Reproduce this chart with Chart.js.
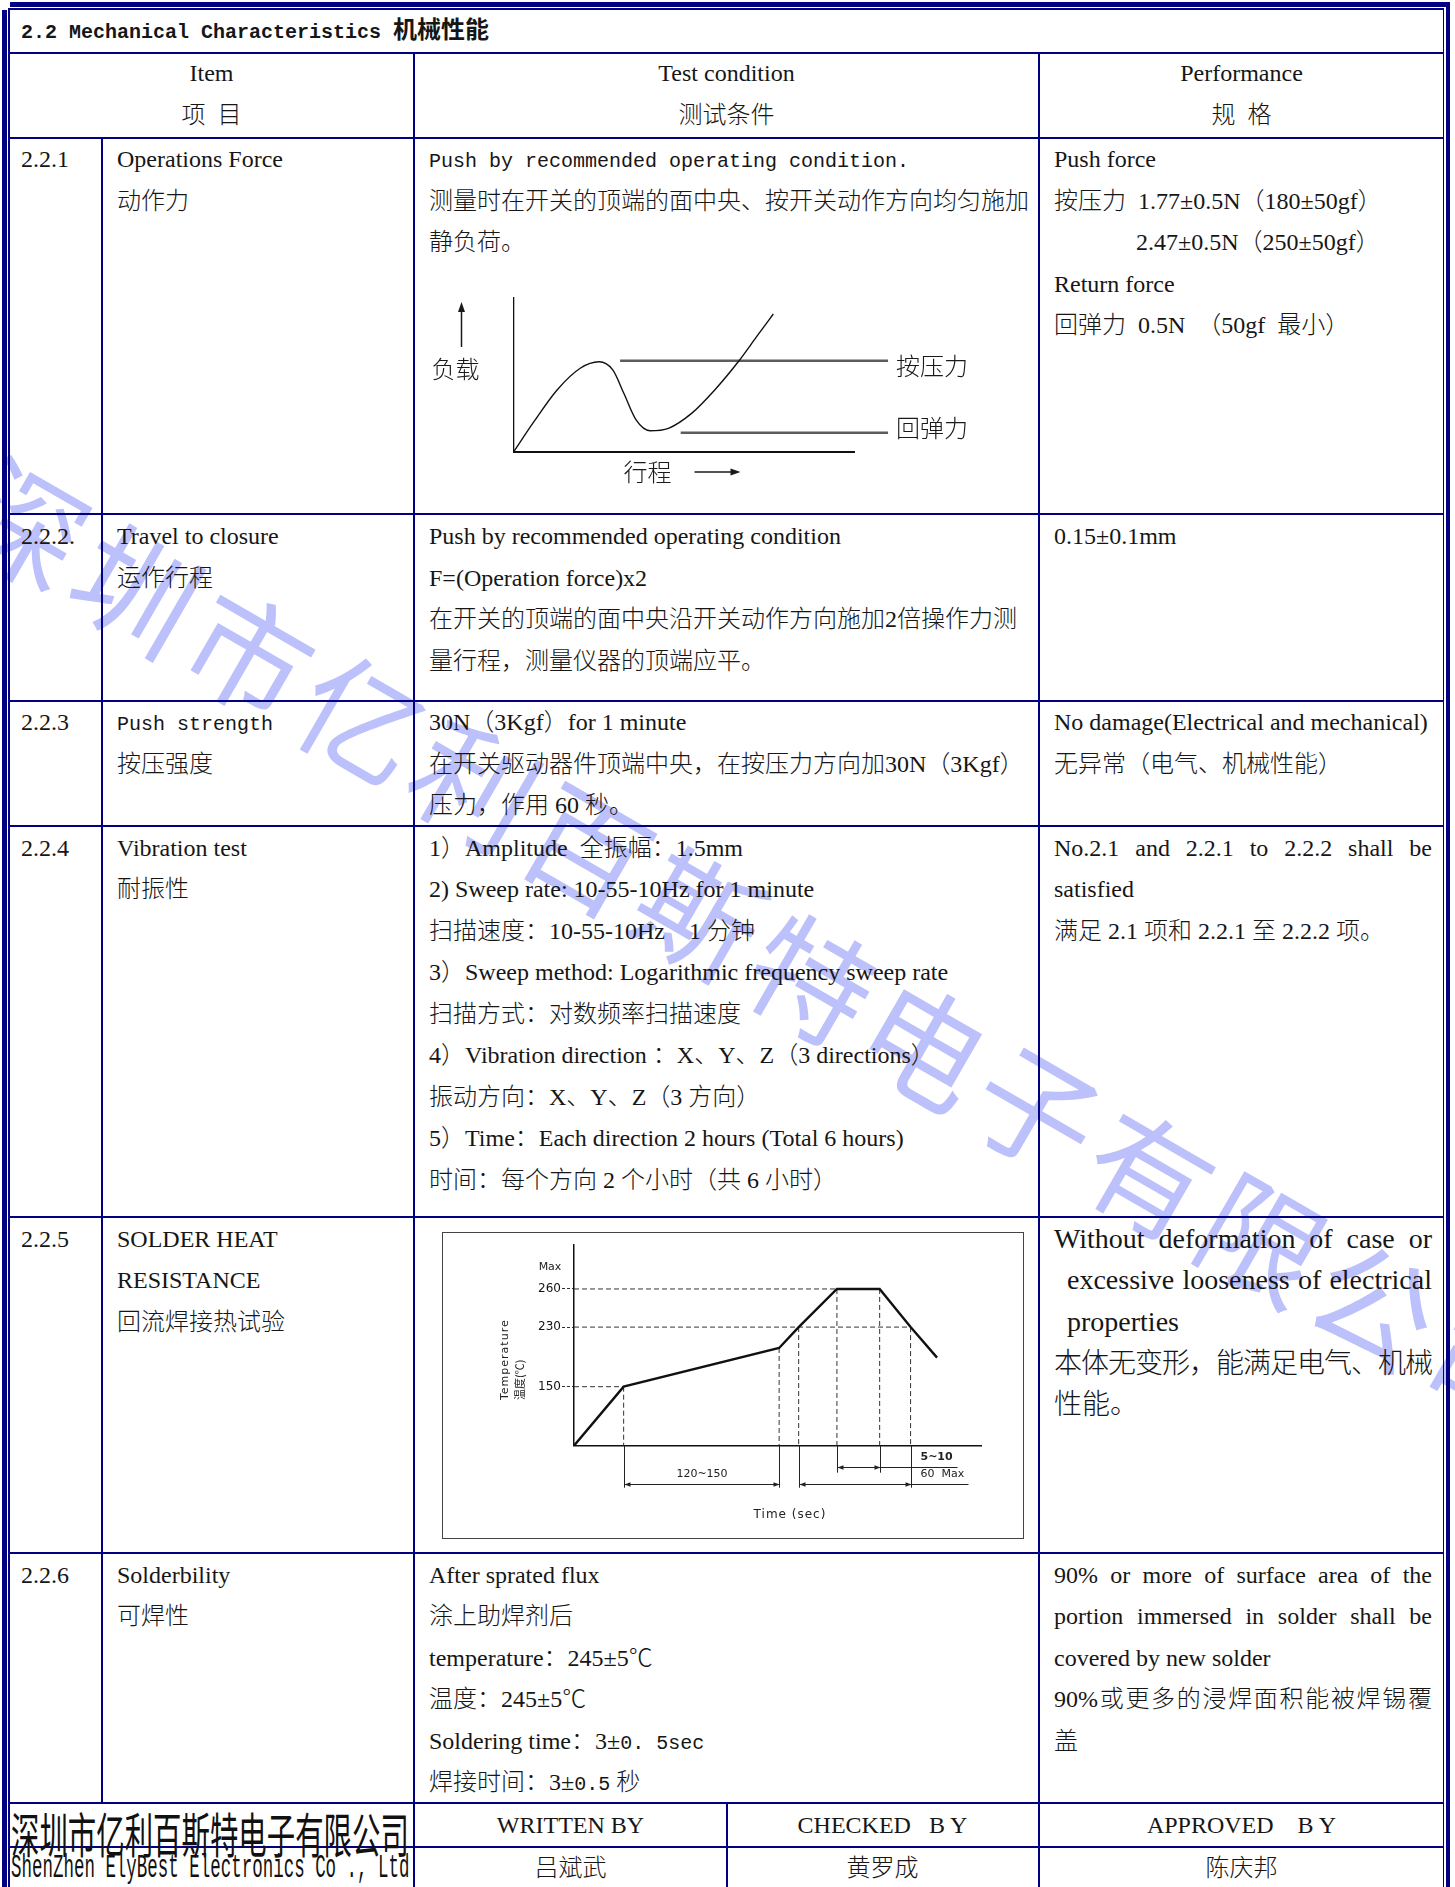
<!DOCTYPE html>
<html>
<head>
<meta charset="utf-8">
<title>2.2 Mechanical Characteristics 机械性能</title>
<script src="https://cdn.jsdelivr.net/npm/chart.js@4.4.1/dist/chart.umd.min.js"></script>
<style>
  html, body { margin: 0; padding: 0; background: #fff; }
  #page { position: relative; width: 1455px; height: 1887px; overflow: hidden; background: #fff; }
  .ln { position: absolute; background: #000080; z-index: 2; }
  .t { position: absolute; z-index: 3; white-space: nowrap; color: #161616; font-weight: 300;
       font-family: "Liberation Serif", "Noto Sans CJK SC", serif; font-size: 24px; line-height: 41.5px; }
  .t > div { height: 41.5px; }
  .m { font-family: "Liberation Mono", "Noto Sans CJK SC", monospace; font-size: 20px; font-weight: 400; }
  .title, .title .m { font-weight: 700; }
  .j { white-space: normal; text-align: justify; text-align-last: justify; }
  .c { text-align: center; }
  .big { font-size: 28px; line-height: 41.7px; }
  .big > div { height: 41.7px; }
  #wm { position: absolute; left: -26px; top: 424px; height: 130px; line-height: 130px; z-index: 1;
        font-family: "Noto Sans CJK SC", sans-serif; font-weight: 400; font-size: 122px; letter-spacing: 8px;
        color: #bcc0fb; white-space: nowrap; transform-origin: 0 50%; transform: rotate(30deg); }
  canvas { position: absolute; z-index: 3; }
  .box { position: absolute; z-index: 3; border: 1.5px solid #444; box-sizing: border-box; }
  .logo { position: absolute; z-index: 3; left: 11px; white-space: nowrap; color: #111; transform-origin: 0 50%; }
  .logo.cn { top: 1808px; height: 48px; font-family: "Noto Sans CJK SC", sans-serif; font-size: 48px; line-height: 48px; transform: scaleX(0.592); }
  .logo.en { top: 1853px; height: 30px; font-family: "Liberation Mono", monospace; font-size: 34px; line-height: 30px; transform: scaleX(0.514); }
</style>
</head>
<body>
<div id="page">
  <div id="wm">深圳市亿利百斯特电子有限公司</div>

  <div class="t title" style="left:21px;top:10px"><div><span class="m">2.2 Mechanical Characteristics </span>机械性能</div></div>

  <div class="t c" style="left:9px;top:53px;width:405px"><div>Item</div><div>项&ensp;目</div></div>
  <div class="t c" style="left:415px;top:53px;width:623px"><div>Test condition</div><div>测试条件</div></div>
  <div class="t c" style="left:1040px;top:53px;width:403px"><div>Performance</div><div>规&ensp;格</div></div>

  <!-- 2.2.1 -->
  <div class="t" style="left:21px;top:139px"><div>2.2.1</div></div>
  <div class="t" style="left:117px;top:139px"><div>Operations Force</div><div>动作力</div></div>
  <div class="t" style="left:429px;top:139px">
    <div><span class="m">Push by recommended operating condition.</span></div>
    <div>测量时在开关的顶端的面中央、按开关动作方向均匀施加</div>
    <div>静负荷。</div>
  </div>
  <div class="t" style="left:1054px;top:139px">
    <div>Push force</div>
    <div>按压力&ensp;1.77±0.5N（180±50gf）</div>
    <div style="padding-left:82px">2.47±0.5N（250±50gf）</div>
    <div>Return force</div>
    <div>回弹力&ensp;0.5N&ensp;（50gf&ensp;最小）</div>
  </div>
  <canvas id="forceChart" width="610" height="215" style="left:420px;top:280px"></canvas>

  <!-- 2.2.2 -->
  <div class="t" style="left:21px;top:516px"><div>2.2.2.</div></div>
  <div class="t" style="left:117px;top:516px"><div>Travel to closure</div><div>运作行程</div></div>
  <div class="t" style="left:429px;top:516px">
    <div>Push by recommended operating condition</div>
    <div>F=(Operation force)x2</div>
    <div>在开关的顶端的面中央沿开关动作方向施加2倍操作力测</div>
    <div>量行程，测量仪器的顶端应平。</div>
  </div>
  <div class="t" style="left:1054px;top:516px"><div>0.15±0.1mm</div></div>

  <!-- 2.2.3 -->
  <div class="t" style="left:21px;top:702px"><div>2.2.3</div></div>
  <div class="t" style="left:117px;top:702px"><div><span class="m">Push strength</span></div><div>按压强度</div></div>
  <div class="t" style="left:429px;top:702px">
    <div>30N（3Kgf）for 1 minute</div>
    <div>在开关驱动器件顶端中央，在按压力方向加30N（3Kgf）</div>
    <div>压力，作用 60 秒。</div>
  </div>
  <div class="t" style="left:1054px;top:702px">
    <div>No damage(Electrical and mechanical)</div>
    <div>无异常（电气、机械性能）</div>
  </div>

  <!-- 2.2.4 -->
  <div class="t" style="left:21px;top:827.5px"><div>2.2.4</div></div>
  <div class="t" style="left:117px;top:827.5px"><div>Vibration test</div><div>耐振性</div></div>
  <div class="t" style="left:429px;top:827.5px">
    <div>1）Amplitude&ensp;全振幅：1.5mm</div>
    <div>2) Sweep rate: 10-55-10Hz for 1 minute</div>
    <div>扫描速度：10-55-10Hz&ensp;&ensp;1 分钟</div>
    <div>3）Sweep method: Logarithmic frequency sweep rate</div>
    <div>扫描方式：对数频率扫描速度</div>
    <div>4）Vibration direction&nbsp;：X、Y、Z（3 directions）</div>
    <div>振动方向：X、Y、Z（3 方向）</div>
    <div>5）Time：Each direction 2 hours (Total 6 hours)</div>
    <div>时间：每个方向 2 个小时（共 6 小时）</div>
  </div>
  <div class="t" style="left:1054px;top:827.5px;width:378px">
    <div class="j">No.2.1 and 2.2.1 to 2.2.2 shall be</div>
    <div>satisfied</div>
    <div>满足 2.1 项和 2.2.1 至 2.2.2 项。</div>
  </div>

  <!-- 2.2.5 -->
  <div class="t" style="left:21px;top:1218.5px"><div>2.2.5</div></div>
  <div class="t" style="left:117px;top:1218.5px"><div>SOLDER HEAT</div><div>RESISTANCE</div><div>回流焊接热试验</div></div>
  <div class="box" style="left:442px;top:1232px;width:582px;height:307px"></div>
  <canvas id="reflowChart" width="582" height="307" style="left:442px;top:1232px"></canvas>
  <div class="t big" style="left:1054px;top:1217.7px;width:378px">
    <div class="j">Without deformation of case or</div>
    <div class="j" style="padding-left:13px">excessive looseness of electrical</div>
    <div style="padding-left:13px">properties</div>
    <div class="j" style="letter-spacing:-1px">本体无变形，能满足电气、机械</div>
    <div>性能。</div>
  </div>

  <!-- 2.2.6 -->
  <div class="t" style="left:21px;top:1554.5px"><div>2.2.6</div></div>
  <div class="t" style="left:117px;top:1554.5px"><div>Solderbility</div><div>可焊性</div></div>
  <div class="t" style="left:429px;top:1554.5px">
    <div>After sprated flux</div>
    <div>涂上助焊剂后</div>
    <div>temperature：245±5℃</div>
    <div>温度：245±5℃</div>
    <div>Soldering time：3±<span class="m">0. 5sec</span></div>
    <div>焊接时间：3±<span class="m">0.5</span> 秒</div>
  </div>
  <div class="t" style="left:1054px;top:1554.5px;width:378px">
    <div class="j">90% or more of surface area of the</div>
    <div class="j">portion immersed in solder shall be</div>
    <div>covered by new solder</div>
    <div class="j">90%或更多的浸焊面积能被焊锡覆</div>
    <div>盖</div>
  </div>

  <!-- footer -->
  <div class="logo cn">深圳市亿利百斯特电子有限公司</div>
  <div class="logo en">ShenZhen ElyBest Electronics Co ., Ltd</div>
  <div class="t c" style="left:415px;top:1805px;width:311px"><div>WRITTEN BY</div></div>
  <div class="t c" style="left:727px;top:1805px;width:311px"><div>CHECKED&nbsp;&nbsp; B Y</div></div>
  <div class="t c" style="left:1040px;top:1805px;width:403px"><div>APPROVED&nbsp;&nbsp;&nbsp; B Y</div></div>
  <div class="t c" style="left:415px;top:1848px;width:311px"><div>吕斌武</div></div>
  <div class="t c" style="left:727px;top:1848px;width:311px"><div>黄罗成</div></div>
  <div class="t c" style="left:1040px;top:1848px;width:403px"><div>陈庆邦</div></div>
</div>

<script>
// force vs. travel sketch (row 2.2.1) in arbitrary units
const travel = [0, 6, 12.8, 19.6, 25.1, 29.2, 32.4, 36, 40.1, 45.5, 52.3, 59.1, 66, 71.4, 76.3];
const load = [0, 19.7, 40.3, 54.4, 58.6, 53.2, 38.1, 20.8, 13.8, 15.4, 25.1, 40.3, 58.6, 74.9, 89.6];
const forceLevels = [59.3, 12.5];
const forceLevelFrom = [31.3, 49.1];
const forceLevelNames = ['按压力', '回弹力'];

// reflow soldering profile (row 2.2.5)
const profileTime = [0, 60, 195, 215, 235, 245, 265, 285];
const profileTemp = [25, 150, 202, 230, 260, 260, 230, 189];
const tempTicks = [150, 230, 260];
const tempGuideTo = [60, 265, 235];
const dropTimes = [60, 195, 215, 235, 245, 265];
const preheatSpan = [60, 195];
const above230Span = [215, 265];
const peakSpan = [235, 245];

// table rules
const page = document.getElementById('page');
function rule(x, y, w, h) {
  const d = document.createElement('div');
  d.className = 'ln';
  Object.assign(d.style, {left: x + 'px', top: y + 'px', width: w + 'px', height: h + 'px'});
  page.appendChild(d);
}
rule(10, 2, 1440, 5); rule(8, 8, 1436, 1.6);
rule(2, 10, 5, 1877); rule(8, 8, 1.6, 1879);
rule(1442.6, 8, 1.6, 1879); rule(1445.8, 2, 4.6, 1885);
[52.5, 137.5, 514, 700.5, 826, 1217, 1553, 1803, 1847].forEach(y => rule(9, y - 1, 1434, 2));
rule(100.8, 137.5, 2, 1665.5);
rule(413.3, 52.5, 2, 1835);
rule(1038, 52.5, 2, 1835);
rule(725.5, 1803, 2, 84);

// a linear scale whose spacing is stretched piecewise, as in the schematic drawing
const LinearScale = Chart.LinearScale || Chart.registry.getScale('linear');
function piecewise(from, to, v) {
  let i = 1;
  while (i < from.length - 1 && v > from[i]) i++;
  const t = (v - from[i - 1]) / (from[i] - from[i - 1]);
  return to[i - 1] + t * (to[i] - to[i - 1]);
}
class SchematicScale extends LinearScale {
  getPixelForValue(value) {
    if (value === null || isNaN(value)) return NaN;
    return this.getPixelForDecimal(piecewise(this.options.breaks, this.options.breakPos, value));
  }
  getValueForPixel(pixel) {
    return piecewise(this.options.breakPos, this.options.breaks, this.getDecimalForPixel(pixel));
  }
}
SchematicScale.id = 'schematic';
SchematicScale.defaults = LinearScale.defaults;
Chart.register(SchematicScale);

function noPadding(s) {
  s.paddingTop = s.paddingBottom = s.paddingLeft = s.paddingRight = 0;
}

function arrowHead(ctx, x, y, dx, dy, len, half) {
  ctx.beginPath();
  ctx.moveTo(x, y);
  ctx.lineTo(x - dx * len - dy * half, y - dy * len + dx * half);
  ctx.lineTo(x - dx * len + dy * half, y - dy * len - dx * half);
  ctx.closePath();
  ctx.fill();
}
function seg(ctx, x1, y1, x2, y2) {
  ctx.beginPath(); ctx.moveTo(x1, y1); ctx.lineTo(x2, y2); ctx.stroke();
}

const forceNotes = {
  id: 'forceNotes',
  afterDraw(chart) {
    const {ctx, chartArea: a, scales: {x, y}} = chart;
    ctx.save();
    ctx.fillStyle = '#1a1a1a';
    ctx.strokeStyle = '#1a1a1a';
    ctx.font = '300 24px "Noto Sans CJK SC"';
    ctx.textBaseline = 'middle';
    ctx.textAlign = 'left';
    const nudge = [5, -5];
    forceLevels.forEach((lv, i) =>
      ctx.fillText(forceLevelNames[i], x.getPixelForValue(110) + 8, y.getPixelForValue(lv) + nudge[i]));
    ctx.fillText('负载', a.left - 82, a.top + 71);
    ctx.fillText('行程', a.left + 110, a.bottom + 20);
    ctx.lineWidth = 1.5;
    const ax = a.left - 52;
    seg(ctx, ax, a.top + 49, ax, a.top + 12);
    arrowHead(ctx, ax, a.top + 4, 0, -1, 10, 3.5);
    const ay = a.bottom + 20;
    seg(ctx, a.left + 181, ay, a.left + 219, ay);
    arrowHead(ctx, a.left + 227, ay, 1, 0, 10, 3.5);
    ctx.restore();
  }
};

new Chart(document.getElementById('forceChart'), {
  type: 'line',
  data: {
    datasets: [
      {data: travel.map((v, i) => ({x: v, y: load[i]})), borderColor: '#111', borderWidth: 1.4,
       cubicInterpolationMode: 'monotone'},
      ...forceLevels.map((lv, i) => ({
        data: [{x: forceLevelFrom[i], y: lv}, {x: 110, y: lv}],
        borderColor: '#5c5c5c', borderWidth: 2.6, clip: false
      }))
    ]
  },
  options: {
    responsive: false,
    animation: false,
    events: [],
    layout: {padding: {left: 93.5, right: 176, top: 18, bottom: 43}},
    elements: {point: {radius: 0}},
    scales: {
      x: {type: 'linear', min: 0, max: 100, ticks: {display: false}, grid: {display: false},
          border: {color: '#111', width: 2},
          afterFit(s) { s.height = 0; noPadding(s); }},
      y: {type: 'linear', min: 0, max: 100, ticks: {display: false}, grid: {display: false},
          border: {color: '#111', width: 1.3},
          afterFit(s) { s.width = 0; noPadding(s); }}
    },
    plugins: {legend: {display: false}, tooltip: {enabled: false}}
  },
  plugins: [forceNotes]
});

const reflowNotes = {
  id: 'reflowNotes',
  afterDraw(chart) {
    const {ctx, chartArea: a, scales: {x, y}} = chart;
    const px = t => Math.round(x.getPixelForValue(t)) + 0.5;
    ctx.save();
    ctx.strokeStyle = '#222';
    ctx.fillStyle = '#222';
    ctx.lineWidth = 1;
    // extension lines below the time axis
    preheatSpan.concat(above230Span).forEach(t => seg(ctx, px(t), a.bottom, px(t), a.bottom + 42));
    peakSpan.forEach(t => seg(ctx, px(t), a.bottom, px(t), a.bottom + 27));
    // dimension lines
    const dim = (span, yy, tail) => {
      const x1 = px(span[0]), x2 = px(span[1]);
      seg(ctx, x1, yy, x2 + tail, yy);
      arrowHead(ctx, x1, yy, -1, 0, 6, 2.2);
      arrowHead(ctx, x2, yy, 1, 0, 6, 2.2);
    };
    const yLow = Math.round(a.bottom + 38.5) + 0.5;
    const yPeak = Math.round(a.bottom + 21) + 0.5;
    dim(preheatSpan, yLow, 0);
    dim(above230Span, yLow, 57);
    dim(peakSpan, yPeak, 77);

    ctx.font = '11px "DejaVu Sans"';
    ctx.textBaseline = 'middle';
    ctx.textAlign = 'center';
    ctx.fillText('120~150', (px(preheatSpan[0]) + px(preheatSpan[1])) / 2, a.bottom + 28);
    ctx.textAlign = 'left';
    ctx.fillText('60  Max', px(above230Span[1]) + 9, a.bottom + 28);
    ctx.font = 'bold 11px "DejaVu Sans"';
    ctx.fillText('5~10', px(above230Span[1]) + 9, a.bottom + 11);

    ctx.font = '12px "DejaVu Sans"';
    ctx.textAlign = 'center';
    ctx.letterSpacing = '1px';
    ctx.fillText('Time (sec)', a.left + 216, a.bottom + 69);
    ctx.letterSpacing = '0px';
    ctx.font = '11px "DejaVu Sans"';
    ctx.fillText('Max', a.left - 24, y.getPixelForValue(260) - 22);

    ctx.textAlign = 'left';
    ctx.save();
    ctx.translate(a.left - 69, a.top + 155);
    ctx.rotate(-Math.PI / 2);
    ctx.letterSpacing = '1px';
    ctx.fillText('Temperature', 0, 0);
    ctx.restore();
    ctx.save();
    ctx.translate(a.left - 54, a.top + 155);
    ctx.rotate(-Math.PI / 2);
    ctx.font = '11px "Noto Sans CJK SC"';
    ctx.fillText('温度(℃)', 0, 0);
    ctx.restore();
    ctx.restore();
  }
};

const guideStyle = {borderColor: '#333', borderWidth: 1, borderDash: [5, 3]};
const tempAt = t => profileTemp[profileTime.indexOf(t)];

new Chart(document.getElementById('reflowChart'), {
  type: 'line',
  data: {
    datasets: [
      {data: profileTime.map((t, i) => ({x: t, y: profileTemp[i]})), borderColor: '#111', borderWidth: 2.4},
      ...tempTicks.map((lv, i) => Object.assign({data: [{x: 0, y: lv}, {x: tempGuideTo[i], y: lv}]}, guideStyle)),
      ...dropTimes.map(t => Object.assign({data: [{x: t, y: tempAt(t)}, {x: t, y: profileTemp[0]}]}, guideStyle))
    ]
  },
  options: {
    responsive: false,
    animation: false,
    events: [],
    layout: {padding: {left: 0, right: 43, top: 13, bottom: 0}},
    elements: {point: {radius: 0}, line: {tension: 0}},
    scales: {
      x: {
        type: 'schematic', min: 0, max: 310,
        breaks: [0, 60, 195, 215, 235, 245, 265, 285, 310],
        breakPos: [0, 0.122, 0.504, 0.552, 0.646, 0.751, 0.827, 0.892, 1],
        ticks: {display: false}, grid: {display: false},
        border: {color: '#111', width: 1.5},
        afterFit(s) { s.height = 93.3; noPadding(s); }
      },
      y: {
        type: 'schematic', min: 25, max: 300,
        breaks: [25, 150, 230, 260, 300],
        breakPos: [0, 0.294, 0.591, 0.781, 1],
        afterBuildTicks(s) { s.ticks = tempTicks.map(v => ({value: v})); },
        ticks: {font: {family: 'DejaVu Sans', size: 12}, color: '#111', padding: 1},
        grid: {drawOnChartArea: false, tickLength: 12, tickColor: '#333', tickWidth: 1, tickBorderDash: [3, 2]},
        border: {color: '#111', width: 1.5},
        afterFit(s) { s.width = 132; noPadding(s); }
      }
    },
    plugins: {legend: {display: false}, tooltip: {enabled: false}}
  },
  plugins: [reflowNotes]
});
</script>
</body>
</html>
